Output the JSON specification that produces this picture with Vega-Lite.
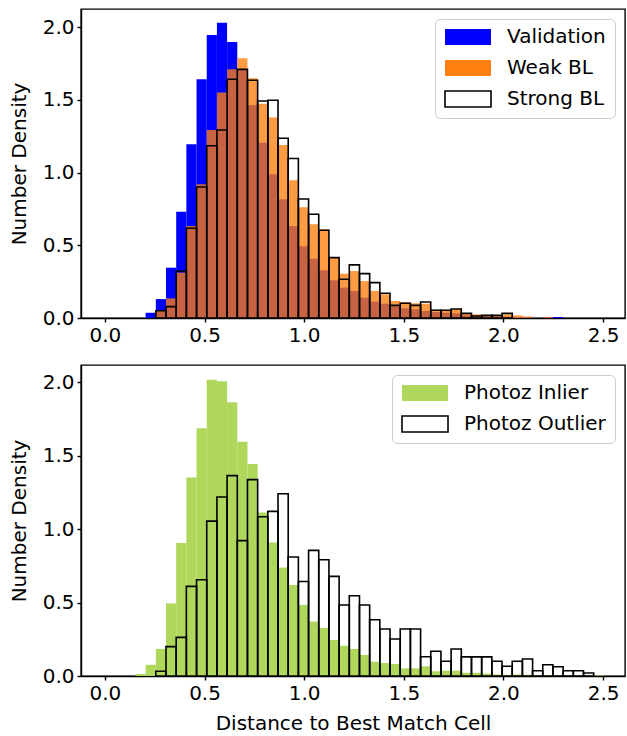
{
  "$schema": "https://vega.github.io/schema/vega-lite/v6.json",
  "padding": {"left": 8, "top": 8, "right": 0, "bottom": 4},
  "background": "white",
  "config": {
    "view": {"stroke": "black", "strokeWidth": 1.4},
    "axis": {"domainColor": "black", "domainWidth": 1.4, "tickColor": "black", "tickWidth": 1.4, "tickSize": 4, "labelColor": "black", "titleColor": "black", "labelFont": "DejaVu Sans", "titleFont": "DejaVu Sans", "labelFontSize": 20, "titleFontSize": 20, "titleFontWeight": "normal", "grid": false, "labelPadding": 3},
    "concat": {"spacing": 18}
  },
  "datasets": {
    "top": [
      {"x0": 0.2044, "x1": 0.2555, "val": 0.036, "weak": null, "strong": null},
      {"x0": 0.2555, "x1": 0.3066, "val": 0.130, "weak": 0.055, "strong": 0.050},
      {"x0": 0.3066, "x1": 0.3577, "val": 0.346, "weak": 0.135, "strong": 0.078},
      {"x0": 0.3577, "x1": 0.4088, "val": 0.731, "weak": 0.312, "strong": 0.323},
      {"x0": 0.4088, "x1": 0.4599, "val": 1.195, "weak": 0.633, "strong": 0.617},
      {"x0": 0.4599, "x1": 0.5110, "val": 1.642, "weak": 0.920, "strong": 0.901},
      {"x0": 0.5110, "x1": 0.5621, "val": 1.946, "weak": 1.293, "strong": 1.185},
      {"x0": 0.5621, "x1": 0.6132, "val": 2.031, "weak": 1.550, "strong": 1.293},
      {"x0": 0.6132, "x1": 0.6643, "val": 1.898, "weak": 1.710, "strong": 1.642},
      {"x0": 0.6643, "x1": 0.7154, "val": 1.710, "weak": 1.786, "strong": 1.710},
      {"x0": 0.7154, "x1": 0.7665, "val": 1.465, "weak": 1.649, "strong": 1.635},
      {"x0": 0.7665, "x1": 0.8176, "val": 1.206, "weak": 1.474, "strong": 1.492},
      {"x0": 0.8176, "x1": 0.8687, "val": 0.988, "weak": 1.378, "strong": 1.497},
      {"x0": 0.8687, "x1": 0.9198, "val": 0.816, "weak": 1.190, "strong": 1.236},
      {"x0": 0.9198, "x1": 0.9709, "val": 0.633, "weak": 0.948, "strong": 1.097},
      {"x0": 0.9709, "x1": 1.0220, "val": 0.493, "weak": 0.761, "strong": 0.818},
      {"x0": 1.0220, "x1": 1.0731, "val": 0.408, "weak": 0.644, "strong": 0.713},
      {"x0": 1.0731, "x1": 1.1242, "val": 0.328, "weak": 0.610, "strong": 0.603},
      {"x0": 1.1242, "x1": 1.1753, "val": 0.259, "weak": 0.415, "strong": 0.415},
      {"x0": 1.1753, "x1": 1.2264, "val": 0.209, "weak": 0.305, "strong": 0.266},
      {"x0": 1.2264, "x1": 1.2775, "val": 0.186, "weak": 0.323, "strong": 0.365},
      {"x0": 1.2775, "x1": 1.3286, "val": 0.140, "weak": 0.254, "strong": 0.305},
      {"x0": 1.3286, "x1": 1.3797, "val": 0.112, "weak": 0.186, "strong": 0.243},
      {"x0": 1.3797, "x1": 1.4308, "val": 0.098, "weak": 0.163, "strong": 0.170},
      {"x0": 1.4308, "x1": 1.4819, "val": 0.087, "weak": 0.117, "strong": 0.087},
      {"x0": 1.4819, "x1": 1.5330, "val": 0.067, "weak": 0.110, "strong": 0.101},
      {"x0": 1.5330, "x1": 1.5841, "val": 0.060, "weak": 0.101, "strong": 0.087},
      {"x0": 1.5841, "x1": 1.6352, "val": 0.048, "weak": 0.098, "strong": 0.110},
      {"x0": 1.6352, "x1": 1.6863, "val": 0.041, "weak": 0.057, "strong": 0.053},
      {"x0": 1.6863, "x1": 1.7374, "val": 0.036, "weak": 0.057, "strong": 0.053},
      {"x0": 1.7374, "x1": 1.7885, "val": 0.032, "weak": 0.060, "strong": 0.062},
      {"x0": 1.7885, "x1": 1.8396, "val": 0.018, "weak": 0.032, "strong": 0.032},
      {"x0": 1.8396, "x1": 1.8907, "val": 0.015, "weak": 0.025, "strong": 0.014},
      {"x0": 1.8907, "x1": 1.9418, "val": 0.012, "weak": 0.018, "strong": 0.018},
      {"x0": 1.9418, "x1": 1.9929, "val": 0.010, "weak": 0.018, "strong": 0.018},
      {"x0": 1.9929, "x1": 2.0440, "val": 0.008, "weak": 0.025, "strong": 0.032},
      {"x0": 2.0440, "x1": 2.0951, "val": 0.006, "weak": 0.018, "strong": null},
      {"x0": 2.0951, "x1": 2.1462, "val": 0.004, "weak": 0.011, "strong": null},
      {"x0": 2.1973, "x1": 2.2484, "val": 0.007, "weak": 0.007, "strong": null},
      {"x0": 2.2484, "x1": 2.2995, "val": 0.007, "weak": null, "strong": null}
    ],
    "bot": [
      {"x0": 0.1533, "x1": 0.2044, "inl": 0.014, "out": null},
      {"x0": 0.2044, "x1": 0.2555, "inl": 0.076, "out": null},
      {"x0": 0.2555, "x1": 0.3066, "inl": 0.184, "out": 0.032},
      {"x0": 0.3066, "x1": 0.3577, "inl": 0.494, "out": 0.200},
      {"x0": 0.3577, "x1": 0.4088, "inl": 0.905, "out": 0.263},
      {"x0": 0.4088, "x1": 0.4599, "inl": 1.351, "out": 0.610},
      {"x0": 0.4599, "x1": 0.5110, "inl": 1.685, "out": 0.655},
      {"x0": 0.5110, "x1": 0.5621, "inl": 2.016, "out": 1.054},
      {"x0": 0.5621, "x1": 0.6132, "inl": 2.005, "out": 1.218},
      {"x0": 0.6132, "x1": 0.6643, "inl": 1.862, "out": 1.363},
      {"x0": 0.6643, "x1": 0.7154, "inl": 1.594, "out": 0.921},
      {"x0": 0.7154, "x1": 0.7665, "inl": 1.442, "out": 1.336},
      {"x0": 0.7665, "x1": 0.8176, "inl": 1.113, "out": 1.084},
      {"x0": 0.8176, "x1": 0.8687, "inl": 0.909, "out": 1.120},
      {"x0": 0.8687, "x1": 0.9198, "inl": 0.739, "out": 1.240},
      {"x0": 0.9198, "x1": 0.9709, "inl": 0.620, "out": 0.810},
      {"x0": 0.9709, "x1": 1.0220, "inl": 0.483, "out": 0.643},
      {"x0": 1.0220, "x1": 1.0731, "inl": 0.370, "out": 0.855},
      {"x0": 1.0731, "x1": 1.1242, "inl": 0.327, "out": 0.791},
      {"x0": 1.1242, "x1": 1.1753, "inl": 0.245, "out": 0.678},
      {"x0": 1.1753, "x1": 1.2264, "inl": 0.206, "out": 0.483},
      {"x0": 1.2264, "x1": 1.2775, "inl": 0.184, "out": 0.546},
      {"x0": 1.2775, "x1": 1.3286, "inl": 0.143, "out": 0.483},
      {"x0": 1.3286, "x1": 1.3797, "inl": 0.097, "out": 0.383},
      {"x0": 1.3797, "x1": 1.4308, "inl": 0.088, "out": 0.320},
      {"x0": 1.4308, "x1": 1.4819, "inl": 0.082, "out": 0.252},
      {"x0": 1.4819, "x1": 1.5330, "inl": 0.052, "out": 0.320},
      {"x0": 1.5330, "x1": 1.5841, "inl": 0.052, "out": 0.320},
      {"x0": 1.5841, "x1": 1.6352, "inl": 0.066, "out": 0.131},
      {"x0": 1.6352, "x1": 1.6863, "inl": 0.032, "out": 0.168},
      {"x0": 1.6863, "x1": 1.7374, "inl": 0.036, "out": 0.100},
      {"x0": 1.7374, "x1": 1.7885, "inl": 0.036, "out": 0.184},
      {"x0": 1.7885, "x1": 1.8396, "inl": 0.022, "out": 0.130},
      {"x0": 1.8396, "x1": 1.8907, "inl": 0.022, "out": 0.130},
      {"x0": 1.8907, "x1": 1.9418, "inl": 0.016, "out": 0.130},
      {"x0": 1.9418, "x1": 1.9929, "inl": 0.010, "out": 0.100},
      {"x0": 1.9929, "x1": 2.0440, "inl": 0.008, "out": 0.066},
      {"x0": 2.0440, "x1": 2.0951, "inl": 0.010, "out": 0.100},
      {"x0": 2.0951, "x1": 2.1462, "inl": 0.008, "out": 0.116},
      {"x0": 2.1462, "x1": 2.1973, "inl": 0.006, "out": 0.036},
      {"x0": 2.1973, "x1": 2.2484, "inl": 0.006, "out": 0.077},
      {"x0": 2.2484, "x1": 2.2995, "inl": 0.006, "out": 0.063},
      {"x0": 2.2995, "x1": 2.3506, "inl": 0.005, "out": 0.036},
      {"x0": 2.3506, "x1": 2.4017, "inl": 0.005, "out": 0.036},
      {"x0": 2.4017, "x1": 2.4528, "inl": 0.004, "out": 0.020},
      {"x0": 2.4528, "x1": 2.5039, "inl": 0.003, "out": null}
    ]
  },
  "vconcat": [
    {
      "width": 544,
      "height": 309,
      "data": {"name": "top"},
      "layer": [
        {
          "transform": [{"filter": "datum.val > 0"}],
          "mark": {"type": "rect"},
          "encoding": {
            "x": {"field": "x0", "type": "quantitative", "scale": {"domain": [-0.12, 2.61], "nice": false, "zero": false}, "axis": {"title": null, "values": [0, 0.5, 1, 1.5, 2, 2.5], "format": ".1f"}},
            "x2": {"field": "x1"},
            "y": {"field": "val", "type": "quantitative", "scale": {"domain": [0, 2.125], "nice": false}, "axis": {"title": "Number Density", "values": [0, 0.5, 1, 1.5, 2], "format": ".1f", "titlePadding": 13}},
            "y2": {"datum": 0},
            "fill": {
              "datum": "Validation", "type": "nominal",
              "scale": {"domain": ["Validation", "Weak BL", "Strong BL"], "range": ["#0000ff", "#ff7f0e", "transparent"]},
              "legend": {
                "title": null, "orient": "top-right", "offset": 10,
                "symbolType": "M-1,-0.35H1V0.35H-1Z", "symbolSize": 2116, "clipHeight": 18,
                "labelFont": "DejaVu Sans", "labelFontSize": 20, "labelColor": "black", "labelOffset": 15,
                "rowPadding": 11, "padding": 9,
                "fillColor": "rgba(255,255,255,0.8)", "strokeColor": "#cccccc", "cornerRadius": 5,
                "encode": {"symbols": {"update": {
                  "fill": {"signal": "datum.value === 'Validation' ? '#0000ff' : datum.value === 'Weak BL' ? '#ff9b43' : '#ffffff'"},
                  "stroke": {"signal": "datum.value === 'Strong BL' ? '#000000' : 'transparent'"},
                  "strokeWidth": {"value": 1.6},
                  "opacity": {"value": 1}
                }}}
              }
            }
          }
        },
        {
          "transform": [{"filter": "datum.weak > 0"}],
          "mark": {"type": "rect", "opacity": 0.78},
          "encoding": {
            "x": {"field": "x0", "type": "quantitative"},
            "x2": {"field": "x1"},
            "y": {"field": "weak", "type": "quantitative"},
            "y2": {"datum": 0},
            "fill": {"datum": "Weak BL", "type": "nominal"}
          }
        },
        {
          "transform": [{"filter": "datum.strong > 0"}],
          "mark": {"type": "rect", "stroke": "black", "strokeWidth": 1.6},
          "encoding": {
            "x": {"field": "x0", "type": "quantitative"},
            "x2": {"field": "x1"},
            "y": {"field": "strong", "type": "quantitative"},
            "y2": {"datum": 0},
            "fill": {"datum": "Strong BL", "type": "nominal"}
          }
        }
      ]
    },
    {
      "width": 544,
      "height": 311,
      "data": {"name": "bot"},
      "layer": [
        {
          "transform": [{"filter": "datum.inl > 0"}],
          "mark": {"type": "rect"},
          "encoding": {
            "x": {"field": "x0", "type": "quantitative", "scale": {"domain": [-0.12, 2.61], "nice": false, "zero": false}, "axis": {"title": "Distance to Best Match Cell", "values": [0, 0.5, 1, 1.5, 2, 2.5], "format": ".1f", "titlePadding": 10}},
            "x2": {"field": "x1"},
            "y": {"field": "inl", "type": "quantitative", "scale": {"domain": [0, 2.116], "nice": false}, "axis": {"title": "Number Density", "values": [0, 0.5, 1, 1.5, 2], "format": ".1f", "titlePadding": 13}},
            "y2": {"datum": 0},
            "fill": {
              "datum": "Photoz Inlier", "type": "nominal",
              "scale": {"domain": ["Photoz Inlier", "Photoz Outlier"], "range": ["#aed75b", "transparent"]},
              "legend": {
                "title": null, "orient": "top-right", "offset": 10,
                "symbolType": "M-1,-0.35H1V0.35H-1Z", "symbolSize": 2116, "clipHeight": 18,
                "labelFont": "DejaVu Sans", "labelFontSize": 20, "labelColor": "black", "labelOffset": 15,
                "rowPadding": 11, "padding": 9,
                "fillColor": "rgba(255,255,255,0.8)", "strokeColor": "#cccccc", "cornerRadius": 5,
                "encode": {"symbols": {"update": {
                  "fill": {"signal": "datum.value === 'Photoz Inlier' ? '#aed75b' : '#ffffff'"},
                  "stroke": {"signal": "datum.value === 'Photoz Outlier' ? '#000000' : 'transparent'"},
                  "strokeWidth": {"value": 1.6},
                  "opacity": {"value": 1}
                }}}
              }
            }
          }
        },
        {
          "transform": [{"filter": "datum.out > 0"}],
          "mark": {"type": "rect", "stroke": "black", "strokeWidth": 1.6},
          "encoding": {
            "x": {"field": "x0", "type": "quantitative"},
            "x2": {"field": "x1"},
            "y": {"field": "out", "type": "quantitative"},
            "y2": {"datum": 0},
            "fill": {"datum": "Photoz Outlier", "type": "nominal"}
          }
        }
      ]
    }
  ],
  "resolve": {"scale": {"fill": "independent", "x": "independent", "y": "independent"}, "legend": {"fill": "independent"}}
}
